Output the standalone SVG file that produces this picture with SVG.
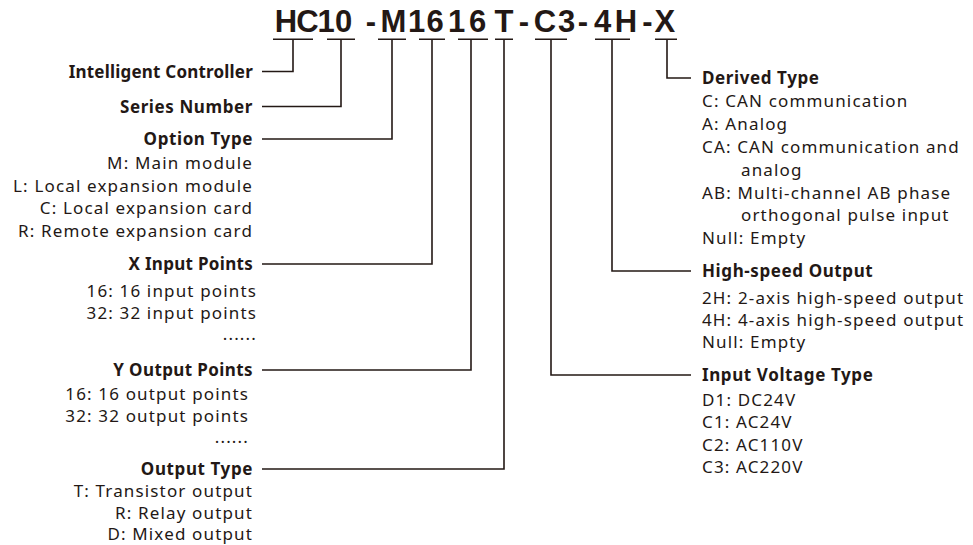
<svg xmlns="http://www.w3.org/2000/svg" width="973" height="545" viewBox="0 0 973 545">
<style>
.t{font-family:"Liberation Sans",Arial,sans-serif;font-weight:bold;font-size:31px;fill:#231815}
.h{font-family:"Noto Sans","Open Sans",sans-serif;font-weight:bold;font-size:17px;fill:#231815;letter-spacing:0.6px}
.b{font-family:"Noto Sans","Open Sans",sans-serif;font-size:17px;fill:#231815;letter-spacing:1.15px}
.r{text-anchor:end}
.c{fill:none;stroke:#231815;stroke-width:1.6}
</style>
<rect width="973" height="545" fill="#ffffff"/>
<g id="code">
<text class="t" y="32"><tspan x="274.8">H</tspan><tspan x="296.3">C</tspan><tspan x="317.4">1</tspan><tspan x="334.9">0</tspan><tspan x="365.8">-</tspan><tspan x="380.6">M</tspan><tspan x="407.9">1</tspan><tspan x="426.4">6</tspan><tspan x="447.9">1</tspan><tspan x="468.9">6</tspan><tspan x="494.5">T</tspan><tspan x="518.8">-</tspan><tspan x="533.8">C</tspan><tspan x="557.9">3</tspan><tspan x="577.8">-</tspan><tspan x="593.9">4</tspan><tspan x="614.8">H</tspan><tspan x="642.3">-</tspan><tspan x="654.6">X</tspan></text>
</g>
<g id="connectors" class="c">
<path d="M273 39.3H313M327 39.3H355M378 39.3H406M419 39.3H445M458 39.3H488M495 39.3H513M535 39.3H567M595 39.3H630M655 39.3H677"/>
<path d="M293 39.3V71.5H262"/>
<path d="M341 39.3V106.5H262"/>
<path d="M392 39.3V139H262"/>
<path d="M432 39.3V264H262"/>
<path d="M471 39.3V370H262"/>
<path d="M504 39.3V469H262"/>
<path d="M667 39.3V78H691"/>
<path d="M612 39.3V271H691"/>
<path d="M551 39.3V375H691"/>
</g>
<g id="intelligent-controller">
<text class="h r" x="253" y="77.5" style="letter-spacing:0.2px">Intelligent Controller</text>
</g>
<g id="series-number">
<text class="h r" x="253" y="112.5">Series Number</text>
</g>
<g id="option-type">
<text class="h r" x="253" y="145">Option Type</text>
<text class="b r" x="253" y="169">M: Main module</text>
<text class="b r" x="253" y="191.7">L: Local expansion module</text>
<text class="b r" x="253" y="214.4">C: Local expansion card</text>
<text class="b r" x="253" y="237">R: Remote expansion card</text>
</g>
<g id="x-input-points">
<text class="h r" x="253" y="270" style="letter-spacing:0.3px">X Input Points</text>
<text class="b r" x="257" y="297">16: 16 input points</text>
<text class="b r" x="257" y="318.5">32: 32 input points</text>
<text class="b r" x="257" y="340">......</text>
</g>
<g id="y-output-points">
<text class="h r" x="253" y="376" style="letter-spacing:0.4px">Y Output Points</text>
<text class="b r" x="249" y="400">16: 16 output points</text>
<text class="b r" x="249" y="422">32: 32 output points</text>
<text class="b r" x="249" y="443">......</text>
</g>
<g id="output-type">
<text class="h r" x="253" y="475">Output Type</text>
<text class="b r" x="253" y="496.5">T: Transistor output</text>
<text class="b r" x="253" y="518.5">R: Relay output</text>
<text class="b r" x="253" y="540">D: Mixed output</text>
</g>
<g id="derived-type">
<text class="h" x="702" y="84">Derived Type</text>
<text class="b" x="702" y="107">C: CAN communication</text>
<text class="b" x="702" y="130">A: Analog</text>
<text class="b" x="702" y="153">CA: CAN communication and</text>
<text class="b" x="741" y="176">analog</text>
<text class="b" x="702" y="198.5">AB: Multi-channel AB phase</text>
<text class="b" x="741" y="221">orthogonal pulse input</text>
<text class="b" x="702" y="244">Null: Empty</text>
</g>
<g id="high-speed-output">
<text class="h" x="702" y="277">High-speed Output</text>
<text class="b" x="702" y="304">2H: 2-axis high-speed output</text>
<text class="b" x="702" y="326">4H: 4-axis high-speed output</text>
<text class="b" x="702" y="348">Null: Empty</text>
</g>
<g id="input-voltage-type">
<text class="h" x="702" y="381">Input Voltage Type</text>
<text class="b" x="702" y="406">D1: DC24V</text>
<text class="b" x="702" y="428">C1: AC24V</text>
<text class="b" x="702" y="451">C2: AC110V</text>
<text class="b" x="702" y="473">C3: AC220V</text>
</g>
</svg>
